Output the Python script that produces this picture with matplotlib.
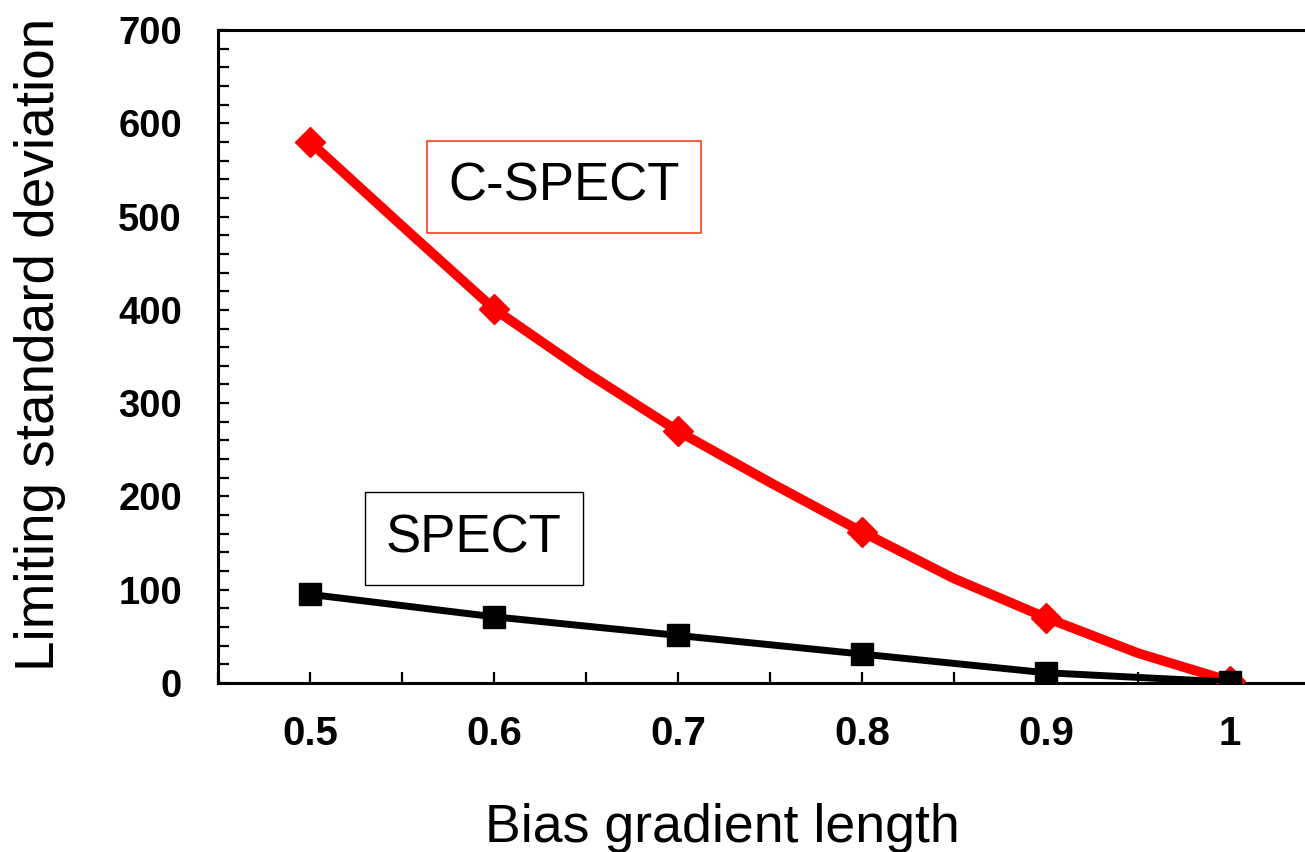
import matplotlib
matplotlib.use("Agg")
import matplotlib.pyplot as plt
from matplotlib.ticker import MultipleLocator

# Bias gradient length (sampled every 0.05, markers every 0.1)
x_cspect = [0.50, 0.55, 0.60, 0.65, 0.70, 0.75, 0.80, 0.85, 0.90, 0.95, 1.00]
y_cspect = [580, 490, 401, 333, 270, 215, 162, 112, 70, 32, 2]

x_spect = [0.5, 0.6, 0.7, 0.8, 0.9, 1.0]
y_spect = [95, 71, 51, 31, 11, 1]

x_ticks = [0.5, 0.6, 0.7, 0.8, 0.9, 1.0]
x_tick_labels = ["0.5", "0.6", "0.7", "0.8", "0.9", "1"]
y_ticks = [0, 100, 200, 300, 400, 500, 600, 700]

W, H = 1305, 852
fig = plt.figure(figsize=(W / 100, H / 100), dpi=100)
left, right, top, bottom = 218, 1305, 30, 683
ax = fig.add_axes([left / W, (H - bottom) / H, (right - left) / W, (bottom - top) / H])

ax.plot(x_cspect, y_cspect, color="#ff0000", lw=7, marker="D", markersize=15,
        markevery=2, solid_joinstyle="miter", zorder=3)
ax.plot(x_spect, y_spect, color="black", lw=5, marker="s", markersize=16, zorder=4)

ax.set_xlim(0.45, 0.45 + (right - left) / 1840)
ax.set_ylim(0, 700)

ax.set_xticks(x_ticks)
ax.set_xticklabels(x_tick_labels)
ax.set_yticks(y_ticks)
ax.xaxis.set_minor_locator(MultipleLocator(0.05))
ax.yaxis.set_minor_locator(MultipleLocator(20))

ax.tick_params(axis="both", which="both", direction="in", length=8, width=1.6,
               top=False, right=False)
ax.tick_params(axis="x", which="major", pad=23)
ax.tick_params(axis="y", which="major", pad=26)

for lab in ax.get_xticklabels():
    lab.set_fontfamily("Liberation Sans")
    lab.set_fontweight("bold")
    lab.set_fontsize(29)
for lab in ax.get_yticklabels():
    lab.set_fontfamily("Liberation Sans")
    lab.set_fontweight("bold")
    lab.set_fontsize(27.5)

for side in ("left", "bottom", "top"):
    ax.spines[side].set_linewidth(2.2)
ax.spines["right"].set_visible(False)

ax.set_xlabel("Bias gradient length", fontsize=38.6, family="Liberation Sans")
ax.xaxis.label.set_va("center")
ax.xaxis.set_label_coords(0.4637, -0.222)
ax.set_ylabel("Limiting standard deviation", fontsize=39.5, family="Liberation Sans")
ax.yaxis.label.set_va("center")
ax.yaxis.set_label_coords(-0.164, 0.518)

ax.text(0.3184, 0.760, "C-SPECT", transform=ax.transAxes, fontsize=38,
        family="Liberation Sans", ha="center", va="center",
        bbox=dict(boxstyle="square,pad=0.4", fc="white", ec="#ff4020", lw=1.2))
ax.text(0.2355, 0.2213, "SPECT", transform=ax.transAxes, fontsize=38,
        family="Liberation Sans", ha="center", va="center",
        bbox=dict(boxstyle="square,pad=0.4", fc="white", ec="black", lw=1.0))

fig.savefig("out.png", dpi=100)
